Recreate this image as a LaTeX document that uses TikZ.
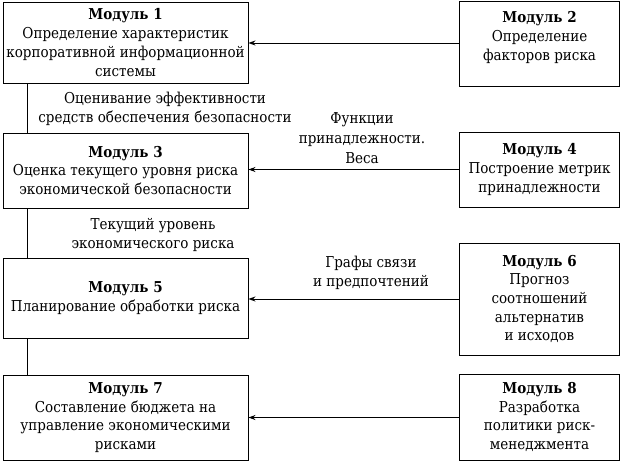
\documentclass[tikz,border=0pt]{standalone}
\usepackage{fontspec}
\setmainfont{DejaVu Serif Condensed}
\usetikzlibrary{arrows.meta}
\begin{document}
\begin{tikzpicture}[x=1pt,y=-1pt,
  box/.style={draw,line width=0.9pt,align=center,inner sep=0pt,font=\fontsize{15}{18.7}\selectfont},
  lbl/.style={align=center,inner sep=0pt,font=\fontsize{15}{18.7}\selectfont},
  conn/.style={line width=0.9pt},
  arr/.style={line width=0.9pt,-{Stealth[length=7pt,width=5pt]}}]
\useasboundingbox (0,0) rectangle (621,463);
\node[box,minimum width=245pt,minimum height=81pt] (b1) at (125.5,42.5) {\textbf{Модуль 1}\\Определение характеристик\\корпоративной информационной\\системы};
\node[box,minimum width=160pt,minimum height=85pt] (b2) at (539.5,43.5) {\textbf{Модуль 2}\\Определение\\факторов риска\\[-3.7pt]};
\node[box,minimum width=245pt,minimum height=75pt] (b3) at (125.5,170.5) {\textbf{Модуль 3}\\Оценка текущего уровня риска\\экономической безопасности};
\node[box,minimum width=160pt,minimum height=75pt] (b4) at (539.5,169.5) {\textbf{Модуль 4}\\Построение метрик\\принадлежности};
\node[box,minimum width=245pt,minimum height=80pt] (b5) at (125.5,298) {\textbf{Модуль 5}\\Планирование обработки риска};
\node[box,minimum width=160pt,minimum height=112pt] (b6) at (539.5,299) {\textbf{Модуль 6}\\Прогноз\\соотношений\\альтернатив\\и исходов};
\node[box,minimum width=245pt,minimum height=85pt] (b7) at (125.5,417.5) {\textbf{Модуль 7}\\Составление бюджета на\\управление экономическими\\рисками};
\node[box,minimum width=160pt,minimum height=86pt] (b8) at (539.5,417) {\textbf{Модуль 8}\\Разработка\\политики риск-\\менеджмента};
\node[lbl] (l1) at (165,109) {Оценивание эффективности\\средств обеспечения безопасности};
\node[lbl,font=\fontsize{15}{20}\selectfont] (l2) at (362,138) {Функции\\принадлежности.\\Веса};
\node[lbl] (l3) at (153,235) {Текущий уровень\\экономического риска};
\node[lbl] (l4) at (371,273) {Графы связи\\и предпочтений};
\coordinate (v1) at (27,0);
\coordinate (a1) at (0,43);
\coordinate (a2) at (0,169.5);
\coordinate (a3) at (0,299);
\coordinate (a4) at (0,417.5);
\draw[conn] (b1.south -| v1) -- (b3.north -| v1);
\draw[conn] (b3.south -| v1) -- (b5.north -| v1);
\draw[conn] (b5.south -| v1) -- (b7.north -| v1);
\draw[arr] (b2.west |- a1) -- (b1.east |- a1);
\draw[arr] (b4.west |- a2) -- (b3.east |- a2);
\draw[arr] (b6.west |- a3) -- (b5.east |- a3);
\draw[arr] (b8.west |- a4) -- (b7.east |- a4);
\end{tikzpicture}
\end{document}
